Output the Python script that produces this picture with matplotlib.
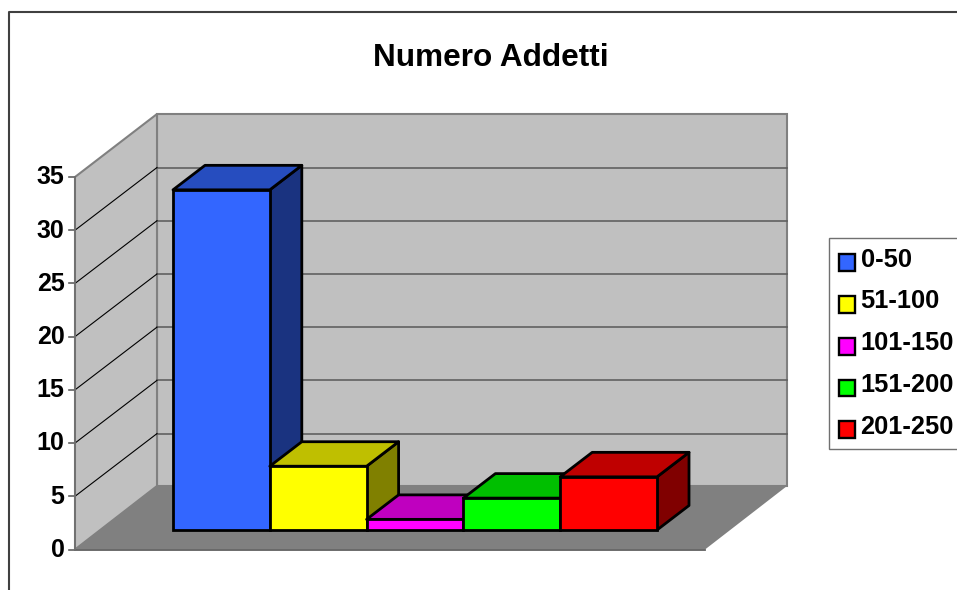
import matplotlib
matplotlib.use("Agg")
import matplotlib.pyplot as plt
from matplotlib.patches import Polygon, Patch

plt.rcParams['font.family'] = ['Liberation Sans', 'DejaVu Sans']

title = "Numero Addetti"
categories = ["0-50", "51-100", "101-150", "151-200", "201-250"]
values = [32, 6, 1, 3, 5]
colors = ["#3366FF", "#FFFF00", "#FF00FF", "#00FF00", "#FF0000"]
y_ticks = [0, 5, 10, 15, 20, 25, 30, 35]

W, H = 957, 590
PX_X = 96.8           # pixels per category
PX_Y = 10.63          # pixels per value unit
X0, Y0 = 173, 530     # pixel of first bar's front-bottom-left
DX = 32 / PX_X        # bar depth in data units
DY = 24.5 / PX_Y
BAR_LW = 2.0


def px(x, y):
    """Layout pixel (top-left origin) to data coordinates."""
    return ((x - X0) / PX_X, (Y0 - y) / PX_Y)


def shade(c, f):
    r, g, b = matplotlib.colors.to_rgb(c)
    return (r * f, g * f, b * f)


fig = plt.figure(figsize=(W / 100, H / 100), dpi=100, facecolor='white')
ax = fig.add_axes([0, 0, 1, 1])
ax.set_xlim(-X0 / PX_X, (W - X0) / PX_X)
ax.set_ylim((Y0 - H) / PX_Y, Y0 / PX_Y)
ax.axis('off')

WALL = '#C0C0C0'
FLOOR = '#808080'
EDGE = '#808080'
GRID = '#606060'

FL, BL, BR, TOP_B, BASE_B, TOP_F, BASE_F, FR = 75, 157, 787, 114, 486, 177, 549.5, 705

# Outer chart border
ax.plot(*zip(px(9, H + 5), px(9, 12), px(W + 5, 12)), color='#404040', lw=1.5, zorder=1)

# Walls and floor
ax.add_patch(Polygon([px(BL, TOP_B), px(BR, TOP_B), px(BR, BASE_B), px(BL, BASE_B)],
                     fc=WALL, ec=EDGE, lw=1.5, zorder=2))
ax.add_patch(Polygon([px(FL, TOP_F), px(BL, TOP_B), px(BL, BASE_B), px(FL, BASE_F)],
                     fc=WALL, ec=EDGE, lw=1.5, zorder=2))
ax.add_patch(Polygon([px(FL, BASE_F), px(BL, BASE_B), px(BR, BASE_B), px(FR, BASE_F)],
                     fc=FLOOR, ec='none', zorder=3))
ax.plot(*zip(px(FL, BASE_F), px(FR, BASE_F)), color=GRID, lw=1.3, zorder=3.5)
ax.plot(*zip(px(FL, TOP_F), px(FL, BASE_F)), color='#707070', lw=1.3, zorder=3.5)

# Gridlines, ticks and tick labels
step_px = (BASE_F - TOP_F) / y_ticks[-1]
for t in y_ticks:
    yf = BASE_F - t * step_px
    yb = BASE_B - t * step_px
    if 0 < t < y_ticks[-1]:
        ax.plot(*zip(px(BL, yb + 0.8), px(BR, yb + 0.8)), color=GRID, lw=1.2, zorder=2.5)
        ax.plot(*zip(px(FL, yf), px(BL, yb + 0.8)), color='black', lw=0.8, zorder=2.5)
    ax.plot(*zip(px(FL - 6, yf), px(FL, yf)), color=GRID, lw=1.2, zorder=2.5)
    lx, ly = px(64.5, yf + 0.3)
    ax.text(lx, ly, str(t), ha='right', va='center', fontsize=18, fontweight='bold', color='black')

# 3D bars
for i, (v, c) in enumerate(zip(values, colors)):
    z = 10 + i
    kw = dict(ec='black', lw=BAR_LW, joinstyle='round', zorder=z)
    ax.add_patch(Polygon([(i + 1, 0), (i + 1 + DX, DY), (i + 1 + DX, v + DY), (i + 1, v)],
                         fc=shade(c, 0.5), **kw))
    ax.add_patch(Polygon([(i, v), (i + DX, v + DY), (i + 1 + DX, v + DY), (i + 1, v)],
                         fc=shade(c, 0.75), **kw))
    ax.bar(i, v, width=1, align='edge', color=c, edgecolor='black', linewidth=BAR_LW, zorder=z)

# Title
tx, ty = px(490.5, 58)
ax.text(tx, ty, title, ha='center', va='center', fontsize=22.7, fontweight='bold', color='black')

# Legend
handles = [Patch(fc=c, ec='black', lw=1.7, label=l) for c, l in zip(colors, categories)]
lgx, lgy = px(829, 237.5)
leg = ax.legend(handles=handles, loc='upper left', bbox_to_anchor=(lgx, lgy),
                bbox_transform=ax.transData, borderaxespad=0, fancybox=False,
                framealpha=1, edgecolor='#707070', facecolor='white',
                prop={'size': 18.3, 'weight': 'bold'},
                handlelength=0.64, handleheight=0.64, handletextpad=0.20,
                labelspacing=0.70, borderpad=0.40)
leg.get_frame().set_linewidth(1.0)
leg.set_zorder(30)
for p in leg.get_patches():
    p.set_y(p.get_y() - 3.5)

fig.savefig('out.png', dpi=100, facecolor='white')
